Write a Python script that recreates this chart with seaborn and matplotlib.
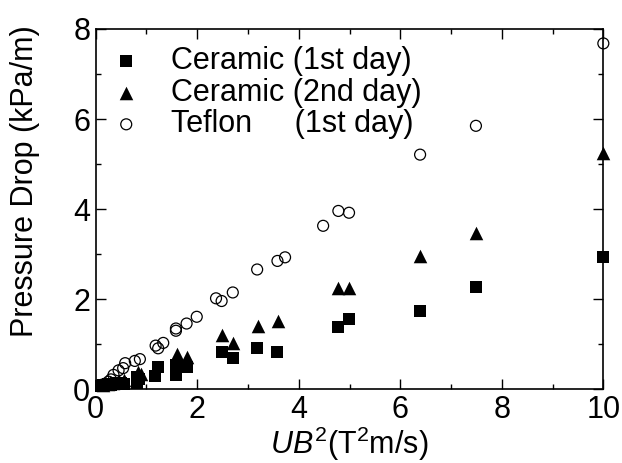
import numpy as np
import pandas as pd
import seaborn as sns
import matplotlib.pyplot as plt
from matplotlib.ticker import MultipleLocator


# data (UB^2 in T^2m/s, pressure drop in kPa/m)
ceramic1_x = [0.10, 0.15, 0.20, 0.25, 0.30, 0.35, 0.40, 0.50, 0.55,
              0.81, 0.81, 0.86, 1.17, 1.23, 1.58, 1.58, 1.79,
              2.48, 2.70, 3.18, 3.58, 4.78, 4.99, 6.39, 7.49, 10.0]
ceramic1_y = [0.08, 0.10, 0.10, 0.12, 0.10, 0.12, 0.13, 0.15, 0.12,
              0.28, 0.14, 0.22, 0.30, 0.49, 0.32, 0.54, 0.49,
              0.83, 0.69, 0.92, 0.83, 1.38, 1.55, 1.74, 2.28, 2.94]

ceramic2_x = [0.15, 0.25, 0.35, 0.45, 0.55, 0.84, 0.90, 1.60, 1.80,
              2.48, 2.71, 3.20, 3.60, 4.78, 4.99, 6.39, 7.49, 10.0]
ceramic2_y = [0.10, 0.12, 0.15, 0.18, 0.20, 0.39, 0.35, 0.78, 0.71,
              1.21, 1.03, 1.40, 1.52, 2.26, 2.26, 2.96, 3.46, 5.24]

teflon_x = [0.12, 0.18, 0.25, 0.30, 0.35, 0.45, 0.54, 0.58, 0.77, 0.87,
            1.18, 1.23, 1.33, 1.58, 1.58, 1.79, 1.99, 2.37, 2.48, 2.70,
            3.18, 3.58, 3.73, 4.48, 4.78, 4.99, 6.39, 7.49, 10.0]
teflon_y = [0.10, 0.12, 0.17, 0.22, 0.32, 0.42, 0.47, 0.58, 0.63, 0.67,
            0.97, 0.91, 1.03, 1.30, 1.35, 1.46, 1.61, 2.02, 1.96, 2.15,
            2.66, 2.85, 2.93, 3.63, 3.96, 3.92, 5.21, 5.85, 7.68]

labels = ["Ceramic (1st day)", "Ceramic (2nd day)", "Teflon     (1st day)"]

sns.set_style("ticks")
plt.rcParams['font.family'] = ['Liberation Sans', 'DejaVu Sans']
plt.rcParams['mathtext.fontset'] = 'custom'
plt.rcParams['mathtext.rm'] = 'Liberation Sans'
plt.rcParams['mathtext.it'] = 'Liberation Sans:italic'
plt.rcParams['text.color'] = 'black'
plt.rcParams['axes.labelcolor'] = 'black'

fig = plt.figure(figsize=(6.22, 4.63), dpi=100)
ax = fig.add_axes([0.1539, 0.1592, 0.8161, 0.7782])

sns.scatterplot(x=ceramic1_x, y=ceramic1_y, marker="s", color="black",
                edgecolor="black", s=70, linewidth=0, label=labels[0],
                clip_on=False, ax=ax)
sns.scatterplot(x=ceramic2_x, y=ceramic2_y, marker="^", color="black",
                edgecolor="black", s=95, linewidth=0, label=labels[1],
                clip_on=False, ax=ax)
sns.scatterplot(x=teflon_x, y=teflon_y, marker="o", color="black",
                facecolor="none", edgecolor="black", s=62, linewidth=0.9,
                label=labels[2], clip_on=False, ax=ax)

ax.set_xlim(0, 10)
ax.set_ylim(0, 8)
ax.xaxis.set_major_locator(MultipleLocator(2))
ax.xaxis.set_minor_locator(MultipleLocator(1))
ax.yaxis.set_major_locator(MultipleLocator(2))
ax.yaxis.set_minor_locator(MultipleLocator(1))
ax.tick_params(which="both", direction="in", top=True, right=True,
               labelsize=22, width=1, color="black", labelcolor="black")
ax.tick_params(which="major", length=7, pad=4)
ax.tick_params(which="minor", length=3.5)
for sp in ax.spines.values():
    sp.set_visible(True)
    sp.set_linewidth(1.2)
    sp.set_color("black")

ax.set_xlabel(r"$\it{UB}^2$(T$^2$m/s)", fontsize=22)
ax.set_ylabel("Pressure Drop (kPa/m)", fontsize=22)
ax.xaxis.set_label_coords(0.5, -0.097)
ax.yaxis.set_label_coords(-0.11, 0.578)

ax.legend(loc="upper left", bbox_to_anchor=(0.03, 0.952), frameon=False,
          fontsize=22, handlelength=1.0, handletextpad=0.95,
          labelspacing=0.05, borderpad=0, borderaxespad=0)

fig.savefig("out.png", dpi=100)
